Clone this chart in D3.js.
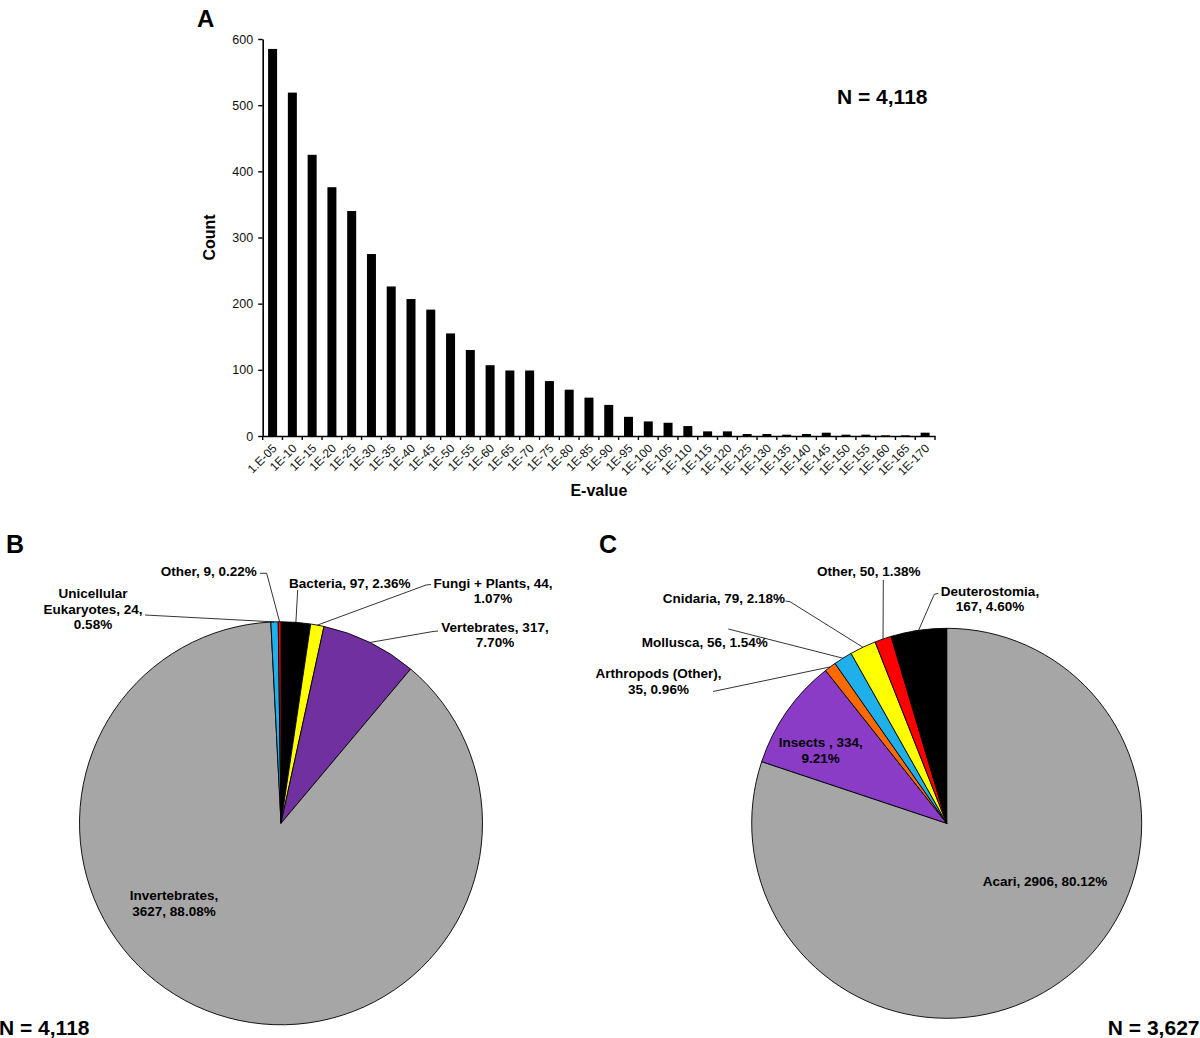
<!DOCTYPE html>
<html>
<head>
<meta charset="utf-8">
<script src="https://cdn.jsdelivr.net/npm/d3@7"></script>
<style>
body { margin: 0; background: #fff; }
svg { display: block; font-family: "Liberation Sans", Arial, sans-serif; }
</style>
</head>
<body>
<div class="container"></div>
<script>
// panel A: hits per E-value bin
var eValueLabels = ["1.E-05","1E-10","1E-15","1E-20","1E-25","1E-30","1E-35","1E-40","1E-45","1E-50",
	"1E-55","1E-60","1E-65","1E-70","1E-75","1E-80","1E-85","1E-90","1E-95","1E-100",
	"1E-105","1E-110","1E-115","1E-120","1E-125","1E-130","1E-135","1E-140","1E-145","1E-150",
	"1E-155","1E-160","1E-165","1E-170"];
var eValueCounts = [585,519,425,376,340,275,226,207,191,155,
	130,107,99,99,83,70,58,47,29,22,
	20,15,7,7,3,3,2,3,5,2,
	2,1,1,5];
var countTicks = [0,100,200,300,400,500,600];

// panel B: all hits by group (clockwise from 12 o'clock)
var pieBNames = ["Bacteria","Fungi + Plants","Vertebrates","Invertebrates","Unicellular Eukaryotes","Other"];
var pieBCounts = [97,44,317,3627,24,9];

// panel C: invertebrate hits by group (clockwise from 12 o'clock)
var pieCNames = ["Acari","Insects ","Arthropods (Other)","Mollusca","Cnidaria","Other","Deuterostomia"];
var pieCCounts = [2906,334,35,56,79,50,167];

var pieBColors = ["#000000","#ffff00","#7030a0","#a6a6a6","#1fb0ec","#ff0000"];
var pieCColors = ["#a6a6a6","#8b3cc6","#ff6a00","#1fb0ec","#ffff00","#ff0000","#000000"];

// label placement: words per line, first baseline, leader points (text side first)
var pieBLayout = [
	{x:289, y:588, anchor:"start", lines:[3], leader:[[297.7,590]]},
	{x:493, y:587.5, anchor:"middle", lines:[4,1], leader:[[431,584.5],[426,585]]},
	{x:495, y:631.5, anchor:"middle", lines:[2,1], leader:[[438,631],[433,631.5]]},
	{x:174, y:900, anchor:"middle", lines:[1,2]},
	{x:93, y:598, anchor:"middle", lines:[1,2,1], leader:[[145,615]]},
	{x:160.7, y:575.5, anchor:"start", lines:[3], leader:[[260,573.3],[266.7,573.3]]}
];
var pieCLayout = [
	{x:982.7, y:886, anchor:"start", lines:[3]},
	{x:820.7, y:747, anchor:"middle", lines:[3,1]},
	{x:658.5, y:678, anchor:"middle", lines:[2,2], leader:[[713,691.5]]},
	{x:641.7, y:647, anchor:"start", lines:[3], leader:[[728.3,629]]},
	{x:662.7, y:603, anchor:"start", lines:[3], leader:[[785.5,601],[790,601.7]]},
	{x:817, y:576, anchor:"start", lines:[3], leader:[[883.3,580]]},
	{x:990, y:595.5, anchor:"middle", lines:[1,2], leader:[[938.3,593.3],[934.3,594.3]]}
];

var svg = d3.select(".container").append("svg")
	.attr("width", 1200)
	.attr("height", 1038);

var boldText = function(x, y, size, str, anchor){
	return svg.append("text")
		.attr("x", x)
		.attr("y", y)
		.attr("font-size", size)
		.attr("font-weight", "bold")
		.attr("text-anchor", anchor || "start")
		.text(str);
}

var drawBars = function(){
	var x = d3.scaleBand()
		.domain(eValueLabels)
		.range([262.7, 935])
		.paddingInner(0.545)
		.paddingOuter(0.2725);
	var y = d3.scaleLinear()
		.domain([0, 600])
		.range([436, 39]);

	var g = svg.append("g");

	g.selectAll("rect.bar")
		.data(eValueCounts)
		.enter().append("rect")
		.attr("class", "bar")
		.attr("x", function(d, i){ return x(eValueLabels[i]); })
		.attr("width", x.bandwidth())
		.attr("y", function(d){ return y(d); })
		.attr("height", function(d){ return y(0) - y(d); })
		.attr("fill", "#000");

	var yAxis = g.append("g")
		.attr("transform", "translate(262.7,0)")
		.call(d3.axisLeft(y).tickValues(countTicks).tickSize(4.5).tickPadding(5).tickSizeOuter(0));
	yAxis.select(".domain").attr("stroke-width", 1.6);
	yAxis.selectAll(".tick line").attr("stroke-width", 1.4);
	yAxis.selectAll("text").attr("font-size", 12.5).attr("font-family", "Liberation Sans, Arial, sans-serif").attr("fill", "#111");

	var xAxis = g.append("g")
		.attr("transform", "translate(0,436)")
		.call(d3.axisBottom(x).tickSize(0).tickPadding(0).tickSizeOuter(0));
	xAxis.select(".domain").attr("stroke-width", 1.6);
	xAxis.selectAll(".tick text")
		.attr("font-size", 12)
		.attr("font-family", "Liberation Sans, Arial, sans-serif")
		.attr("fill", "#111")
		.attr("text-anchor", "end")
		.attr("x", 0)
		.attr("y", 0)
		.attr("dy", 0)
		.attr("transform", "translate(5,13) rotate(-45)");

	// tick marks sit between the bars
	var gap = (x.step() - x.bandwidth()) / 2;
	var edges = eValueLabels.map(function(d){ return x(d) - gap; });
	edges.push(x.range()[1]);
	xAxis.selectAll("line.edge")
		.data(edges)
		.enter().append("line")
		.attr("class", "edge")
		.attr("x1", function(d){ return d; })
		.attr("x2", function(d){ return d; })
		.attr("y1", 0)
		.attr("y2", 4)
		.attr("stroke", "#000")
		.attr("stroke-width", 1.4);

	svg.append("text")
		.attr("transform", "translate(215,237.5) rotate(-90)")
		.attr("font-size", 16)
		.attr("font-weight", "bold")
		.attr("text-anchor", "middle")
		.text("Count");
	boldText((x.range()[0] + x.range()[1]) / 2, 496, 16, "E-value", "middle");
	boldText(197, 27, 24, "A");
	boldText(837, 104, 21, "N = " + d3.format(",")(d3.sum(pieBCounts)));
}

var drawPie = function(names, counts, colors, layout, cx, cy, r){
	var total = d3.sum(counts);
	var color = d3.scaleOrdinal(names, colors);
	var pie = d3.pie().sort(null).value(function(d){ return d.count; });
	var rows = names.map(function(n, i){ return {name:n, count:counts[i], layout:layout[i]}; });
	var arcs = pie(rows);
	var arc = d3.arc().innerRadius(0).outerRadius(r);
	var rim = d3.arc().innerRadius(r).outerRadius(r);

	var g = svg.append("g").attr("transform", "translate(" + cx + "," + cy + ")");
	g.selectAll("path")
		.data(arcs)
		.enter().append("path")
		.attr("d", arc)
		.attr("fill", function(d){ return color(d.data.name); })
		.attr("stroke", "#000")
		.attr("stroke-width", 0.9)
		.attr("stroke-linejoin", "round");

	arcs.forEach(function(d){
		var lay = d.data.layout;
		var pct = (d.data.count / total * 100).toFixed(2);
		var words = (d.data.name + ", " + d.data.count + ", " + pct + "%").split(" ");
		var t = svg.append("text")
			.attr("font-size", 13.5)
			.attr("font-weight", "bold")
			.attr("text-anchor", lay.anchor);
		var k = 0;
		lay.lines.forEach(function(n, li){
			t.append("tspan")
				.attr("x", lay.x)
				.attr("y", lay.y + li * 15.5)
				.text(words.slice(k, k + n).join(" "));
			k += n;
		});
		if (lay.leader) {
			var c = rim.centroid(d);
			var pts = lay.leader.concat([[cx + c[0], cy + c[1]]]);
			svg.append("path")
				.attr("d", d3.line()(pts))
				.attr("fill", "none")
				.attr("stroke", "#000")
				.attr("stroke-width", 0.8);
		}
	});
}

var draw = function(){
	drawBars();
	drawPie(pieBNames, pieBCounts, pieBColors, pieBLayout, 281, 823.3, 201.5);
	drawPie(pieCNames, pieCCounts, pieCColors, pieCLayout, 946.7, 823.3, 195);
	boldText(6, 553, 25, "B");
	boldText(599, 553, 25, "C");
	boldText(-1, 1035, 21, "N = " + d3.format(",")(d3.sum(pieBCounts)));
	boldText(1199.5, 1035, 21, "N = " + d3.format(",")(d3.sum(pieCCounts)), "end");
}

draw();
</script>
</body>
</html>
